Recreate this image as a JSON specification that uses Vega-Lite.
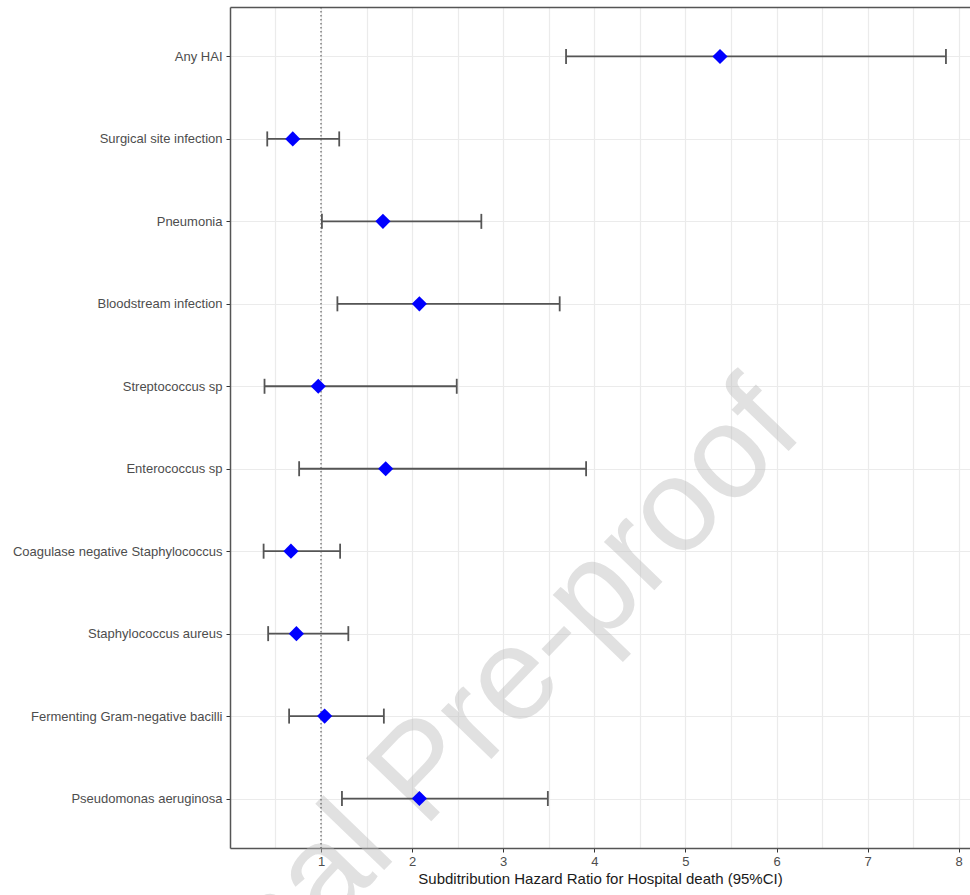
{
  "$schema": "https://vega.github.io/schema/vega-lite/v6.json",
  "width": 740,
  "height": 841,
  "autosize": {"type": "none"},
  "padding": {"left": 230, "top": 7, "right": 0, "bottom": 47},
  "background": "white",
  "config": {"view": {"stroke": null}, "font": "Liberation Sans"},
  "data": {
    "values": [
      {"label": "Any HAI", "hr": 5.38, "lower": 3.69, "upper": 7.86},
      {"label": "Surgical site infection", "hr": 0.69, "lower": 0.41, "upper": 1.20},
      {"label": "Pneumonia", "hr": 1.68, "lower": 1.01, "upper": 2.76},
      {"label": "Bloodstream infection", "hr": 2.08, "lower": 1.18, "upper": 3.62},
      {"label": "Streptococcus sp", "hr": 0.97, "lower": 0.38, "upper": 2.49},
      {"label": "Enterococcus sp", "hr": 1.71, "lower": 0.76, "upper": 3.91},
      {"label": "Coagulase negative Staphylococcus", "hr": 0.67, "lower": 0.37, "upper": 1.21},
      {"label": "Staphylococcus aureus", "hr": 0.73, "lower": 0.42, "upper": 1.30},
      {"label": "Fermenting Gram-negative bacilli", "hr": 1.04, "lower": 0.65, "upper": 1.69},
      {"label": "Pseudomonas aeruginosa", "hr": 2.08, "lower": 1.23, "upper": 3.49}
    ]
  },
  "layer": [
    {
      "data": {"values": [{"text": "Journal Pre-proof"}]},
      "mark": {"type": "text", "fontSize": 132, "font": "Liberation Sans", "angle": -46, "align": "center", "baseline": "middle", "color": "#bdbdbd", "opacity": 0.45, "dy": -38},
      "encoding": {
        "x": {"datum": 2.42, "type": "quantitative", "axis": null},
        "y": {"datum": "Pseudomonas aeruginosa", "type": "nominal"},
        "text": {"field": "text", "type": "nominal"}
      }
    },
    {
      "data": {"values": [{"hr": 1}]},
      "mark": {"type": "rule", "color": "#444444", "strokeWidth": 1, "strokeDash": [1.5, 2.5]},
      "encoding": {
        "x": {
          "field": "hr", "type": "quantitative",
          "axis": {"orient": "top", "labels": false, "ticks": false, "grid": false, "domain": true, "domainColor": "#555555", "domainWidth": 1.5, "title": null}
        }
      }
    },
    {
      "mark": {"type": "rule", "color": "#555555", "strokeWidth": 1.8},
      "encoding": {
        "x": {"field": "lower", "type": "quantitative", "axis": null},
        "x2": {"field": "upper"},
        "y": {"field": "label", "type": "nominal", "sort": null}
      }
    },
    {
      "mark": {"type": "tick", "color": "#555555", "size": 15, "thickness": 1.8, "opacity": 1},
      "encoding": {
        "x": {"field": "lower", "type": "quantitative", "axis": null},
        "y": {"field": "label", "type": "nominal", "sort": null}
      }
    },
    {
      "mark": {"type": "tick", "color": "#555555", "size": 15, "thickness": 1.8, "opacity": 1},
      "encoding": {
        "x": {"field": "upper", "type": "quantitative", "axis": null},
        "y": {"field": "label", "type": "nominal", "sort": null}
      }
    },
    {
      "mark": {"type": "point", "shape": "diamond", "filled": true, "color": "#0000ff", "size": 230, "opacity": 1},
      "encoding": {
        "x": {
          "field": "hr", "type": "quantitative",
          "scale": {"domain": [0.0011, 8.124], "nice": false, "zero": false},
          "axis": {
            "orient": "bottom",
            "values": [0.5, 1, 1.5, 2, 2.5, 3, 3.5, 4, 4.5, 5, 5.5, 6, 6.5, 7, 7.5, 8],
            "labelExpr": "datum.value % 1 === 0 ? '' + datum.value : ''",
            "tickOpacity": {"condition": {"test": "datum.value % 1 !== 0", "value": 0}, "value": 1},
            "tickColor": "#333333",
            "tickSize": 4,
            "tickWidth": 1,
            "domain": true,
            "domainColor": "#555555",
            "domainWidth": 1.5,
            "grid": true,
            "gridColor": "#ebebeb",
            "gridWidth": 1.2,
            "labelFont": "Liberation Sans",
            "labelFontSize": 13,
            "labelColor": "#4d4d4d",
            "labelPadding": 3,
            "title": "Subditribution Hazard Ratio for Hospital death (95%CI)",
            "titleFont": "Liberation Sans",
            "titleFontSize": 15,
            "titleFontWeight": "normal",
            "titleColor": "#1a1a1a",
            "titlePadding": 3
          }
        },
        "y": {
          "field": "label", "type": "nominal", "sort": null,
          "scale": {
            "type": "point", "padding": 0.6,
            "domain": ["Any HAI", "Surgical site infection", "Pneumonia", "Bloodstream infection", "Streptococcus sp", "Enterococcus sp", "Coagulase negative Staphylococcus", "Staphylococcus aureus", "Fermenting Gram-negative bacilli", "Pseudomonas aeruginosa"]
          },
          "axis": {
            "title": null,
            "domain": true,
            "domainColor": "#555555",
            "domainWidth": 1.5,
            "ticks": true,
            "tickColor": "#333333",
            "tickSize": 4,
            "tickWidth": 1,
            "labelFont": "Liberation Sans",
            "labelFontSize": 13,
            "labelColor": "#4d4d4d",
            "labelPadding": 4,
            "labelLimit": 0,
            "grid": true,
            "gridColor": "#ebebeb",
            "gridWidth": 1.2
          }
        }
      }
    }
  ],
  "resolve": {"axis": {"x": "independent"}}
}
